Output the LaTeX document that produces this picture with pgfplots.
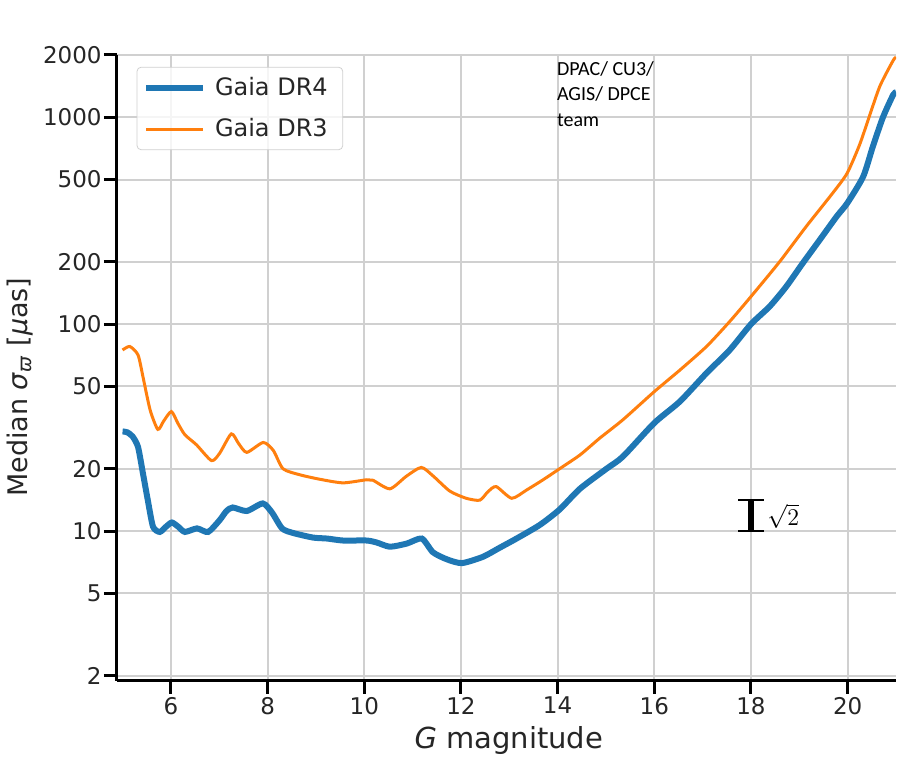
\documentclass[border=0pt]{standalone}
\usepackage{pgfplots}
\pgfplotsset{compat=1.18}
\usepackage{fontspec}
\setmainfont{DejaVu Sans}
\newfontfamily\carlito{Carlito}
\definecolor{c4}{HTML}{1F77B4}
\definecolor{c3}{HTML}{FF7F0E}
\definecolor{gridc}{HTML}{D0D0D0}
\definecolor{txt}{HTML}{262626}
\begin{document}
\begin{tikzpicture}
\path[use as bounding box] (-58.5pt,-38pt) rectangle (390.2pt,340.5pt);
\begin{axis}[
  at={(0,0)}, anchor=south west,
  scale only axis, width=389.7pt, height=313pt,
  xmin=4.884, xmax=21, ymin=1.891, ymax=2000,
  ymode=log,
  axis x line*=bottom, axis y line*=left,
  axis line style={line width=1.5pt, black, -},
  xtick={6,8,...,20},
  ytick={2,5,10,20,50,100,200,500,1000,2000},
  yticklabels={2,5,10,20,50,100,200,500,1000,2000},
  minor ytick={},
  tick align=outside,
  major tick length=6.5pt,
  every tick/.style={black, line width=1.5pt},
  grid=major,
  major grid style={gridc, line width=1pt},
  /pgf/number format/assume math mode=true,
  ticklabel style={font=\fontsize{11.5}{13}\selectfont, text=txt},
  yticklabel style={inner sep=1pt},
  xticklabel style={inner sep=1.5pt},
  xlabel={\textit{G} magnitude},
  ylabel={Median \textit{σ}\textsubscript{\textit{ϖ}} [\textit{μ}as]},
  label style={text=txt},
  xlabel style={font=\fontsize{14.5}{16}\selectfont, at={(axis description cs:0.503,-0.0958)}, anchor=center},
  ylabel style={font=\fontsize{13.5}{15}\selectfont, at={(axis description cs:-0.1245,0.469)}, anchor=center, rotate=0},
  legend style={at={(rel axis cs:0.0253,0.981)}, anchor=north west,
    draw=gridc, rounded corners=2pt, fill=white, fill opacity=0.8, text opacity=1,
    font=\fontsize{12}{14}\selectfont, text=txt, inner xsep=3pt, inner ysep=3pt,
    row sep=6pt, nodes={inner xsep=4.5pt}},
  legend cell align=left,
  legend image code/.code={\draw[#1] (0pt,0pt) -- (28.5pt,0pt);},
  clip=true,
]
\addplot[c4, line width=3pt, smooth, tension=0.4] coordinates {
(5.0,30.3) (5.1,30.0) (5.21,28.6) (5.32,25.5) (5.42,19.1) (5.52,14.2) (5.63,10.5)
(5.77,9.9) (5.9,10.5) (6.02,11.0) (6.15,10.5) (6.29,9.9) (6.54,10.3) (6.77,9.9)
(7.01,11.3) (7.15,12.5) (7.28,13.0) (7.57,12.5) (7.90,13.6) (8.09,12.3) (8.30,10.3)
(8.52,9.8) (8.94,9.3) (9.23,9.2) (9.56,9.0) (10.05,9.0) (10.26,8.8) (10.53,8.4)
(10.88,8.7) (11.19,9.2) (11.42,7.9) (11.71,7.3) (12.02,7.0) (12.45,7.5) (12.80,8.3)
(13.15,9.2) (13.63,10.7) (14.04,12.7) (14.46,16.0) (15.01,20) (15.35,22.9) (16.0,33.3)
(16.53,42.3) (17.08,58) (17.56,75) (18.0,100) (18.39,122) (18.73,152) (19.07,197)
(19.42,255) (19.77,331) (19.99,384) (20.32,516) (20.52,721) (20.73,1000) (20.94,1282)
(21.0,1320)
};
\addlegendentry{Gaia DR4}
\addplot[c3, line width=1.5pt, smooth, tension=0.4] coordinates {
(5.0,75) (5.15,78) (5.32,71) (5.42,56) (5.57,38.5) (5.73,31) (5.85,34) (6.01,37.8)
(6.15,33) (6.29,29.2) (6.53,26.1) (6.84,21.9) (7.01,23.8) (7.25,29.5) (7.4,26.5)
(7.57,24) (7.91,26.8) (8.12,24.5) (8.32,20) (8.67,18.7) (9.08,17.8) (9.56,17.1)
(10.05,17.7) (10.18,17.6) (10.53,16.0) (10.87,18.4) (11.18,20.3) (11.42,18.5)
(11.77,15.6) (12.11,14.4) (12.39,14.1) (12.56,15.5) (12.73,16.4) (13.05,14.4)
(13.36,15.8) (13.70,17.7) (14.04,20) (14.46,23.3) (14.87,28.1) (15.35,34.5)
(16.0,47.2) (16.53,60) (17.08,78) (17.56,103) (18.0,136) (18.59,200) (19.14,296)
(19.69,430) (19.99,537) (20.25,740) (20.46,1030) (20.67,1420) (20.94,1880) (21.0,1950)
};
\addlegendentry{Gaia DR3}
% sqrt(2) scale bar
\addplot[black, line width=3pt, forget plot] coordinates {(18,10) (18,14.142)};
\addplot[black, line width=0.75pt, forget plot] coordinates {(17.74,10) (18.26,10)};
\addplot[black, line width=0.75pt, forget plot] coordinates {(17.74,14.142) (18.26,14.142)};
\node[anchor=west, inner sep=0pt, font=\fontsize{12}{14}\selectfont] at (axis cs:18.33,11.8) {$\sqrt{2}$};
\node[anchor=north west, inner sep=0pt, align=left, font=\carlito\fontsize{10}{12.7}\selectfont] at (axis cs:13.98,1870) {DPAC/ CU3/\\AGIS/ DPCE\\team};
\end{axis}
\end{tikzpicture}
\end{document}
